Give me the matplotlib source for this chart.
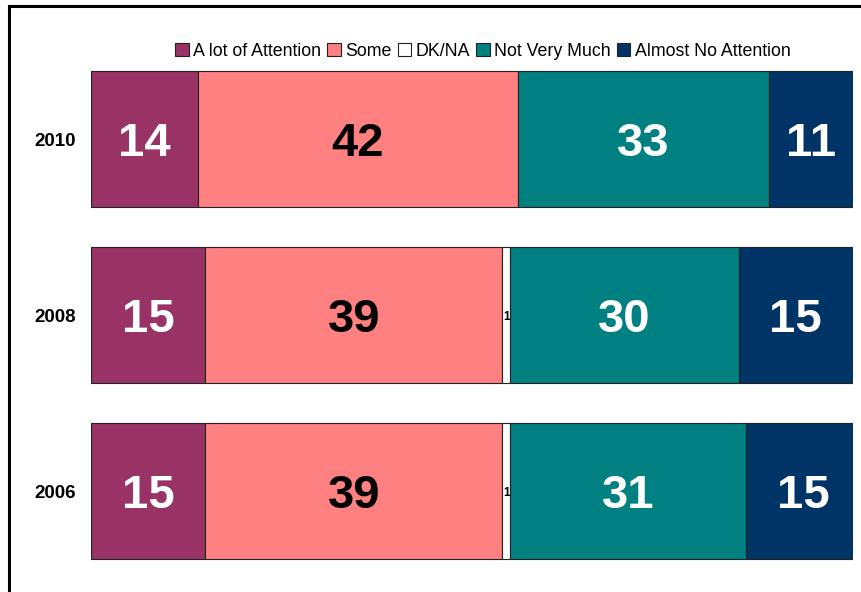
import matplotlib
matplotlib.use("Agg")
import matplotlib.pyplot as plt
import matplotlib.patches as patches

years = ["2006", "2008", "2010"]
categories = ["A lot of Attention", "Some", "DK/NA", "Not Very Much", "Almost No Attention"]
a_lot = [15, 15, 14]
some = [39, 39, 42]
dk_na = [1, 1, 0]
not_much = [31, 30, 33]
almost_none = [15, 15, 11]

series = [a_lot, some, dk_na, not_much, almost_none]
colors = ["#993366", "#FF8080", "#FFFFFF", "#008080", "#003366"]
text_colors = ["white", "black", "black", "white", "white"]
fam = ["Liberation Sans", "DejaVu Sans"]

fig = plt.figure(figsize=(8.62, 5.92), dpi=100)
ax = fig.add_axes([91 / 862, 13 / 592, 762 / 862, 528 / 592])

left = [0, 0, 0]
for i, vals in enumerate(series):
    ax.barh(range(len(years)), vals, left=left, height=0.773, color=colors[i],
            edgecolor="#222222", linewidth=0.8, label=categories[i])
    for j, v in enumerate(vals):
        if v == 0:
            continue
        x = left[j] + v / 2
        if i == 2:
            ax.text(x, j, str(v), ha="center", va="center_baseline", fontsize=8.5,
                    fontweight="bold", color=text_colors[i], family=fam)
        else:
            ax.text(x, j, str(v), ha="center", va="center_baseline", fontsize=34,
                    fontweight="bold", color=text_colors[i], family=fam)
    left = [l + v for l, v in zip(left, vals)]

ax.set_xlim(0, 100)
ax.set_ylim(-0.5, 2.5)
ax.set_yticks(range(len(years)))
ax.set_yticklabels(years, fontsize=13.5, fontweight="bold", family=fam)
ax.tick_params(axis="y", length=0, pad=11)
ax.set_xticks([])
for s in ax.spines.values():
    s.set_visible(False)

fig.legend(loc="center", bbox_to_anchor=(483 / 862, 1 - 51 / 592), ncol=5,
           frameon=False, handlelength=0.75, handleheight=0.75, handletextpad=0.25,
           columnspacing=0.35, prop={"family": "Liberation Sans", "size": 12.8})

fig.patches.append(patches.Rectangle((9.5 / 862, -0.1), 1.2, 1 - 5.5 / 592 + 0.1,
                                     transform=fig.transFigure, fill=False,
                                     edgecolor="black", linewidth=2.2))

fig.savefig("out.png", dpi=100)
